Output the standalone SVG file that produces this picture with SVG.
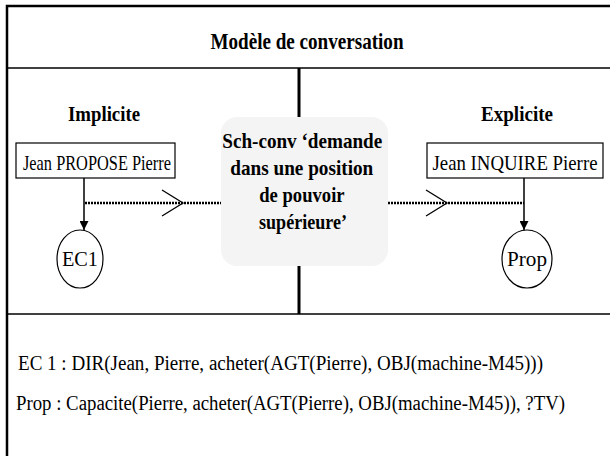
<svg xmlns="http://www.w3.org/2000/svg" width="610" height="456" viewBox="0 0 610 456">
  <style>
    .frame { stroke: #000; stroke-width: 2.5; fill: none; }
    .rule { stroke: #000; stroke-width: 1.6; fill: none; }
    .stem { stroke: #000; stroke-width: 3; fill: none; }
    .box { fill: #fff; stroke: #000; stroke-width: 1.2; }
    .oval { fill: #fff; stroke: #000; stroke-width: 1.2; }
    .link { stroke: #000; stroke-width: 1.5; fill: none; }
    .dots { stroke: #000; stroke-width: 2.5; fill: none; stroke-dasharray: 2 1; }
    .chev { stroke: #000; stroke-width: 1.3; fill: none; }
    text { font-family: "Liberation Serif", "Times New Roman", serif; fill: #000; }
    .bold { font-weight: bold; }
  </style>
  <defs>
    <marker id="head" viewBox="0 0 10 10" refX="10" refY="5" markerWidth="9" markerHeight="9" markerUnits="userSpaceOnUse" orient="auto">
      <path d="M0,0 L10,5 L0,10 Z" fill="#000"/>
    </marker>
  </defs>

  <rect width="610" height="456" fill="#fff"/>

  <!-- frame and section rules -->
  <g id="frame">
    <path class="frame" d="M7,456 V6 H610"/>
    <path class="rule" d="M7,68 H610"/>
    <path class="rule" d="M7,314 H610"/>
    <path class="stem" d="M299,68 V117 M299,266 V314"/>
  </g>

  <g id="title">
    <text class="bold" x="307" y="49" font-size="23" text-anchor="middle" textLength="193" lengthAdjust="spacingAndGlyphs">Modèle de conversation</text>
  </g>

  <g id="heading-implicite">
    <text class="bold" x="104" y="121" font-size="21" text-anchor="middle" textLength="72" lengthAdjust="spacingAndGlyphs">Implicite</text>
  </g>
  <g id="heading-explicite">
    <text class="bold" x="517" y="121" font-size="21" text-anchor="middle" textLength="72" lengthAdjust="spacingAndGlyphs">Explicite</text>
  </g>

  <!-- central conversation schema -->
  <g id="schema">
    <rect x="221" y="117" width="167" height="149" rx="16" fill="#f4f4f4"/>
    <text class="bold" font-size="22" text-anchor="middle">
      <tspan x="305" y="148" textLength="160" lengthAdjust="spacingAndGlyphs">Sch-conv ‘demande</tspan>
      <tspan x="304.5" y="175" textLength="143" lengthAdjust="spacingAndGlyphs">dans une position</tspan>
      <tspan x="304.5" y="202" textLength="85" lengthAdjust="spacingAndGlyphs">de pouvoir</tspan>
      <tspan x="303" y="229" textLength="88" lengthAdjust="spacingAndGlyphs">supérieure’</tspan>
    </text>
  </g>

  <g id="propose">
    <rect class="box" x="16" y="143" width="159" height="35"/>
    <text x="97" y="170" font-size="21" text-anchor="middle" textLength="148" lengthAdjust="spacingAndGlyphs">Jean PROPOSE Pierre</text>
  </g>

  <g id="inquire">
    <rect class="box" x="427" y="143" width="176" height="35"/>
    <text x="515" y="170" font-size="21" text-anchor="middle" textLength="165" lengthAdjust="spacingAndGlyphs">Jean INQUIRE Pierre</text>
  </g>

  <g id="ec1">
    <ellipse class="oval" cx="80" cy="259" rx="23" ry="29"/>
    <text x="80" y="266" font-size="21" text-anchor="middle" textLength="36" lengthAdjust="spacingAndGlyphs">EC1</text>
  </g>

  <g id="prop">
    <ellipse class="oval" cx="527" cy="259" rx="25" ry="29"/>
    <text x="527" y="266" font-size="21" text-anchor="middle" textLength="40" lengthAdjust="spacingAndGlyphs">Prop</text>
  </g>

  <!-- connectors -->
  <g id="connectors">
    <path class="link" d="M84,178 V230" marker-end="url(#head)"/>
    <path class="link" d="M524,178 V230" marker-end="url(#head)"/>
    <path class="dots" d="M85,203 H221"/>
    <path class="dots" d="M388,203 H524"/>
    <path class="chev" d="M162,190 L183,203 L162,216"/>
    <path class="chev" d="M426,190 L447,203 L426,216"/>
  </g>

  <!-- logical forms -->
  <g id="forms">
    <text x="18" y="370" font-size="20" textLength="525" lengthAdjust="spacingAndGlyphs">EC 1 : DIR(Jean, Pierre, acheter(AGT(Pierre), OBJ(machine-M45)))</text>
    <text x="16" y="410" font-size="20" textLength="549" lengthAdjust="spacingAndGlyphs">Prop : Capacite(Pierre, acheter(AGT(Pierre), OBJ(machine-M45)), ?TV)</text>
  </g>
</svg>
